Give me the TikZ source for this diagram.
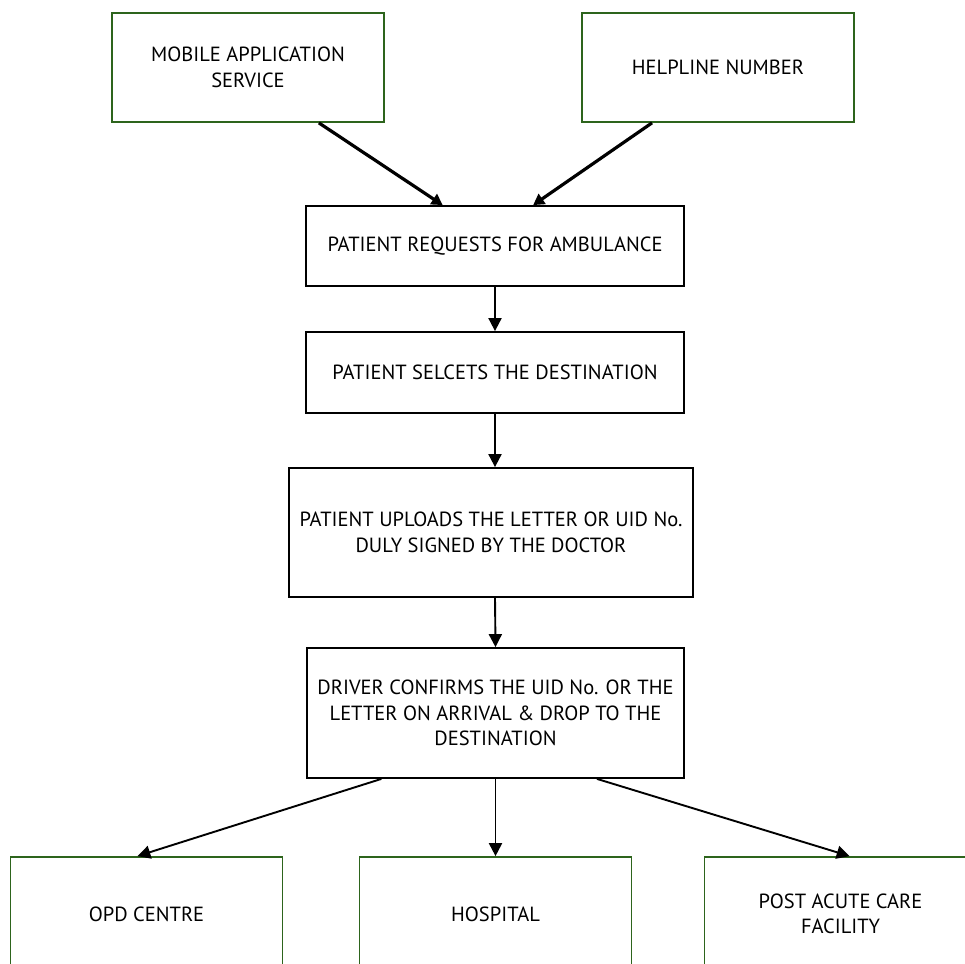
\documentclass[tikz,border=0pt]{standalone}
\usepackage{fontspec}
\setmainfont{PT Sans}
\usepackage{xcolor}
\usetikzlibrary{arrows.meta}

\definecolor{boxgreen}{RGB}{45,100,28}

\tikzset{
  greenbox/.style={draw=boxgreen, line width=1.7pt, rectangle,
    minimum width=272pt, align=center, inner sep=0pt},
  blackbox/.style={draw=black, line width=1.8pt, rectangle,
    align=center, inner sep=0pt},
  thickarrow/.style={line width=3.2pt, -{Triangle[width=12pt,length=11pt]}},
  thinarrow/.style={line width=1.9pt, -{Triangle[width=13pt,length=13pt]}}
}

\begin{document}
\begin{tikzpicture}[x=1pt,y=-1pt,
    font=\fontsize{20.5}{25.5}\selectfont]
    \useasboundingbox (0,0) rectangle (965,963);
    % sources
    \node[greenbox, minimum height=109pt] (mobile) at (248,67.5)
      {MOBILE APPLICATION\\SERVICE};
    \node[greenbox, minimum height=109pt] (helpline) at (718,67.5)
      {HELPLINE NUMBER};
    % main flow
    \node[blackbox, minimum width=378pt, minimum height=80pt] (request)
      at (495,246) {PATIENT REQUESTS FOR AMBULANCE};
    \node[blackbox, minimum width=378pt, minimum height=81pt] (selects)
      at (495,372.5) {PATIENT SELCETS THE DESTINATION};
    \node[blackbox, minimum width=404pt, minimum height=129pt] (uploads)
      at (491,532.5) {PATIENT UPLOADS THE LETTER OR UID No.\\
      DULY SIGNED BY THE DOCTOR};
    \node[blackbox, minimum width=377pt, minimum height=130pt] (driver)
      at (495.5,713) {DRIVER CONFIRMS THE UID No. OR THE\\
      LETTER ON ARRIVAL \& DROP TO THE\\DESTINATION};
    % destinations
    \node[greenbox, minimum height=114pt] (opd) at (146.5,914)
      {OPD CENTRE};
    \node[greenbox, minimum height=114pt] (hospital) at (495.5,914)
      {HOSPITAL};
    \node[greenbox, minimum height=114pt] (post) at (840.5,914)
      {POST ACUTE CARE\\FACILITY};

    \draw[thickarrow] (mobile.-38) -- (request.142);
    \draw[thickarrow] (helpline.220) -- (request.47);
    \draw[thinarrow] (request.south) -- (selects.north);
    \draw[thinarrow] (selects.south) -- (selects.south |- uploads.north);
    \draw[thinarrow] (selects.south |- uploads.south) -- (driver.north);
    \draw[thinarrow] (driver.210) -- (opd.99.5);
    \draw[thinarrow] (driver.south) -- (hospital.north);
    \draw[thinarrow] (driver.-33.2) -- (post.81.5);
\end{tikzpicture}
\end{document}
